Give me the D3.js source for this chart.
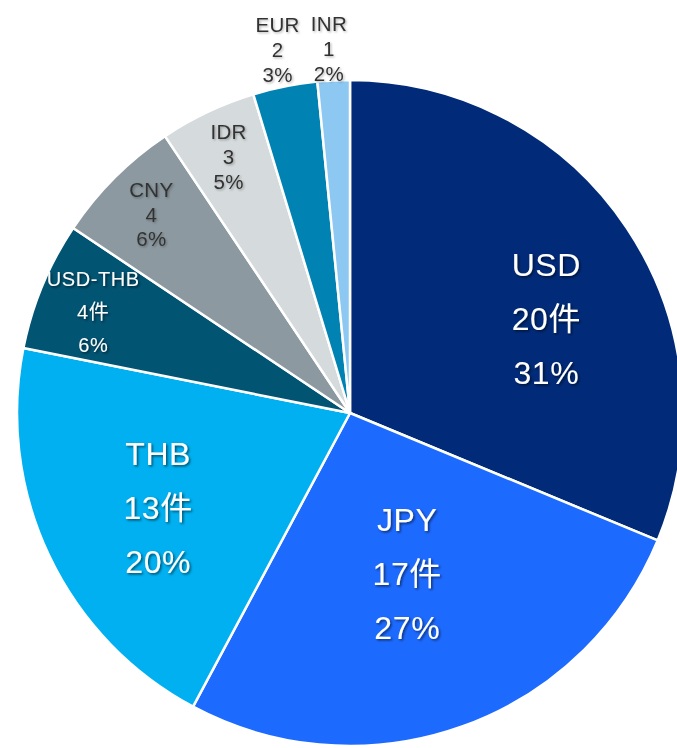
<!DOCTYPE html>
<html>
<head>
<meta charset="utf-8">
<script src="https://cdn.jsdelivr.net/npm/d3@7"></script>
<style>
  html, body { margin: 0; padding: 0; background: #fff; }
  svg { display: block; }
  text { font-family: "Liberation Sans", Arial, "Noto Sans CJK JP", sans-serif; }
</style>
</head>
<body>
<div id="chart"></div>
<script>
// currency share of cases
var currencies = ["USD", "JPY", "THB", "USD-THB", "CNY", "IDR", "EUR", "INR"];
var counts = [20, 17, 13, 4, 4, 3, 2, 1];
var countLabels = ["20件", "17件", "13件", "4件", "4", "3", "2", "1"];
var pctLabels = ["31%", "27%", "20%", "6%", "6%", "5%", "3%", "2%"];
var colors = ["#012a78", "#1d6aff", "#00b0f0", "#025473", "#8c99a0", "#d5dadc", "#0083b3", "#8dc8f2"];

var width = 677, height = 748;
var cx = 350, cy = 413, radius = 333;

var data = currencies.map(function (c, i) {
    return { name: c, value: counts[i], count: countLabels[i], pct: pctLabels[i], color: colors[i] };
});

var svg = d3.select("#chart").append("svg")
    .attr("width", width)
    .attr("height", height);

var defs = svg.append("defs");
defs.append("filter").attr("id", "shadowDark")
    .attr("x", "-20%").attr("y", "-20%").attr("width", "140%").attr("height", "140%")
    .append("feDropShadow")
    .attr("dx", 1.5).attr("dy", 1.5).attr("stdDeviation", 1.2)
    .attr("flood-color", "#000").attr("flood-opacity", 0.55);
defs.append("filter").attr("id", "shadowSoft")
    .attr("x", "-20%").attr("y", "-20%").attr("width", "140%").attr("height", "140%")
    .append("feDropShadow")
    .attr("dx", 1.2).attr("dy", 1.2).attr("stdDeviation", 1)
    .attr("flood-color", "#000").attr("flood-opacity", 0.3);

var g = svg.append("g")
    .attr("transform", "translate(" + cx + "," + cy + ")");

var pie = d3.pie()
    .sort(null)
    .value(function (d) { return d.value; });

var arc = d3.arc()
    .innerRadius(0)
    .outerRadius(radius);

var arcs = pie(data);

g.selectAll("path")
    .data(arcs)
    .enter().append("path")
    .attr("d", arc)
    .attr("fill", function (d) { return d.data.color; })
    .attr("stroke", "#fff")
    .attr("stroke-width", 2.5)
    .attr("stroke-linejoin", "round");

// label layout: radius from center and small angle nudge (degrees)
var labelLayout = {
    "USD": { r: 218, nudge: 8, size: 32, ls: 0.6, gap: 54, fill: "#fff", shadow: "shadowDark" },
    "JPY": { r: 170, nudge: 0, size: 32, ls: 0.6, gap: 54, fill: "#fff", shadow: "shadowDark" },
    "THB": { r: 214, nudge: -1, size: 32, ls: 0.6, gap: 54, fill: "#fff", shadow: "shadowDark" },
    "USD-THB": { r: 276, nudge: -1, size: 20, ls: 0.6, gap: 33, fill: "#fff", shadow: "shadowDark" },
    "CNY": { r: 281, nudge: 0, size: 20.5, ls: 0.3, gap: 24.5, fill: "#333", shadow: "shadowSoft" },
    "IDR": { r: 284, nudge: 0, size: 20.5, ls: 0.3, gap: 25, fill: "#333", shadow: "shadowSoft" },
    "EUR": { r: 371, nudge: 0, size: 20.5, ls: 0.3, gap: 25, fill: "#333", shadow: "shadowSoft" },
    "INR": { r: 365, nudge: -0.5, size: 20.5, ls: 0.3, gap: 25, fill: "#333", shadow: "shadowSoft" }
};

var labels = g.selectAll(".label")
    .data(arcs)
    .enter().append("text")
    .attr("class", "label")
    .attr("text-anchor", "middle")
    .attr("filter", function (d) { return "url(#" + labelLayout[d.data.name].shadow + ")"; })
    .attr("fill", function (d) { return labelLayout[d.data.name].fill; })
    .style("font-size", function (d) { return labelLayout[d.data.name].size + "px"; })
    .style("letter-spacing", function (d) { return labelLayout[d.data.name].ls + "px"; })
    .attr("transform", function (d) {
        var L = labelLayout[d.data.name];
        var a = (d.startAngle + d.endAngle) / 2 + L.nudge * Math.PI / 180;
        var p = d3.arc().innerRadius(L.r).outerRadius(L.r).startAngle(a).endAngle(a).centroid();
        return "translate(" + p[0] + "," + p[1] + ")";
    });

labels.each(function (d) {
    var L = labelLayout[d.data.name];
    var t = d3.select(this);
    var lines = [d.data.name, d.data.count, d.data.pct];
    lines.forEach(function (s, i) {
        t.append("tspan")
            .attr("x", 0)
            .attr("y", (i - 1) * L.gap + L.size * 0.36)
            .text(s);
    });
});
</script>
</body>
</html>
